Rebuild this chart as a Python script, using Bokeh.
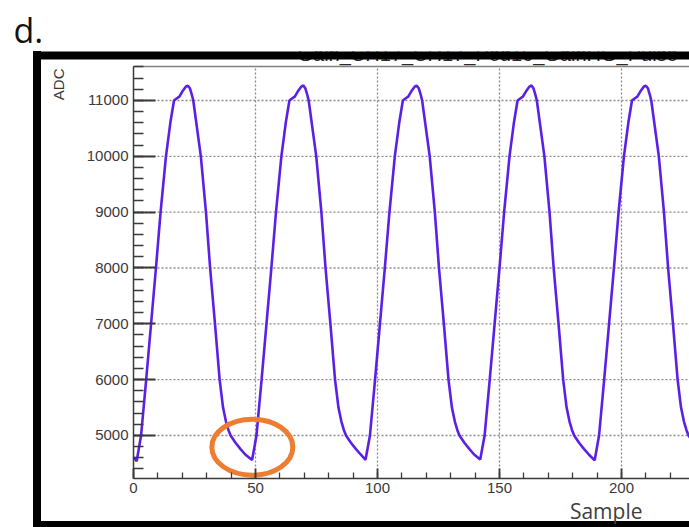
import math
from bokeh.plotting import figure
from bokeh.models import Range1d, SingleIntervalTicker, LinearAxis, Label, BoxAnnotation
from bokeh.embed import file_html
from bokeh.resources import INLINE

# ---- data (Sample, ADC) ----
pulse1_x = [0.0, 1.3, 3.1, 5.2, 7.2, 9.2, 11.1, 13.3, 15.1, 16.6, 17.8, 18.8, 20.3, 21.5, 22.3, 23.1,
            23.8, 24.5, 27.6, 29.7, 31.4, 33.4, 35.3, 36.7, 37.9, 38.9, 39.8, 41.8, 43.8, 45.8]
pulse1_y = [4610, 4540, 5000, 6000, 7000, 8000, 9000, 10000, 10600, 11000, 11040, 11070, 11180, 11250, 11265, 11220,
            11120, 11000, 10000, 9000, 8000, 7000, 6000, 5500, 5250, 5100, 5000, 4870, 4760, 4660]

pulse2_x = [48.6, 50.4, 52.5, 54.5, 56.5, 58.4, 60.6, 62.4, 63.9, 65.1, 66.1, 67.6, 68.8, 69.6, 70.4,
            71.1, 71.8, 74.9, 77.0, 78.7, 80.7, 82.6, 84.0, 85.2, 86.2, 87.1, 89.1, 91.1, 93.1]
pulse2_y = [4560, 5000, 6000, 7000, 8000, 9000, 10000, 10600, 11000, 11040, 11070, 11180, 11250, 11270, 11220,
            11120, 11000, 10000, 9000, 8000, 7000, 6000, 5500, 5250, 5100, 5000, 4870, 4760, 4660]

pulse3_x = [95.1, 96.9, 99.0, 101.0, 103.0, 104.9, 107.1, 108.9, 110.4, 111.6, 112.6, 114.1, 115.3, 116.1, 116.9,
            117.6, 118.3, 121.4, 123.5, 125.2, 127.2, 129.1, 130.5, 131.7, 132.7, 133.6, 135.6, 137.6, 139.6]
pulse3_y = [4565, 5000, 6000, 7000, 8000, 9000, 10000, 10600, 11000, 11040, 11070, 11180, 11250, 11265, 11220,
            11120, 11000, 10000, 9000, 8000, 7000, 6000, 5500, 5250, 5100, 5000, 4870, 4760, 4660]

pulse4_x = [142.1, 143.9, 146.0, 148.0, 150.0, 151.9, 154.1, 155.9, 157.4, 158.6, 159.6, 161.1, 162.3, 163.1, 163.9,
            164.6, 165.3, 168.4, 170.5, 172.2, 174.2, 176.1, 177.5, 178.7, 179.7, 180.6, 182.6, 184.6, 186.6]
pulse4_y = [4570, 5000, 6000, 7000, 8000, 9000, 10000, 10600, 11000, 11040, 11070, 11180, 11250, 11270, 11220,
            11120, 11000, 10000, 9000, 8000, 7000, 6000, 5500, 5250, 5100, 5000, 4870, 4760, 4660]

pulse5_x = [189.0, 190.8, 192.9, 194.9, 196.9, 198.8, 201.0, 202.8, 204.3, 205.5, 206.5, 208.0, 209.2, 210.0, 210.8,
            211.5, 212.2, 215.3, 217.4, 219.1, 221.1, 223.0, 224.4, 225.6, 226.6, 227.5, 229.5]
pulse5_y = [4555, 5000, 6000, 7000, 8000, 9000, 10000, 10600, 11000, 11040, 11070, 11180, 11250, 11265, 11220,
            11120, 11000, 10000, 9000, 8000, 7000, 6000, 5500, 5250, 5100, 5000, 4870]

# tick values of the two axes (grid lines sit on the major ones)
x_ticks = [0, 50, 100, 150, 200]
y_ticks = [5000, 6000, 7000, 8000, 9000, 10000, 11000]

# highlighted minimum (orange ellipse) in data coordinates
mark_x = [48.7]
mark_y = [4790]

panel_label = "d."
plot_title = "Gain_CH17_CH17_Ped16_GainHG_Pulse"
x_title = "Sample"
y_title = "ADC"

sample = pulse1_x + pulse2_x + pulse3_x + pulse4_x + pulse5_x
adc = pulse1_y + pulse2_y + pulse3_y + pulse4_y + pulse5_y

# ---- layout: the frame covers the whole canvas; axes are fixed inside it ----
W, H = 689, 527
X_MIN, X_MAX = 0.0, 227.9          # visible sample range of the pad
Y_MIN, Y_MAX = 4229.9, 11609.0     # visible ADC range of the pad

p = figure(width=W, height=H, output_backend="svg", toolbar_location=None,
           x_range=Range1d(-54.508, 227.869), y_range=Range1d(3352.2, 12791.0),
           min_border_left=0, min_border_right=0, min_border_top=0, min_border_bottom=0,
           x_axis_type=None, y_axis_type=None)
p.background_fill_alpha = 0
p.border_fill_alpha = 0
p.outline_line_color = None
p.xgrid.visible = False
p.ygrid.visible = False

# black slide frame (left and bottom bars) painted behind the canvas
p.styles = {
    "background-color": "white",
    "background-image": "linear-gradient(#000,#000), linear-gradient(#000,#000)",
    "background-size": "8px 476px, 660px 6px",
    "background-position": "33px 51px, 33px 521px",
    "background-repeat": "no-repeat",
}

# dotted grid on the major ticks, limited to the pad
grid_col = "#8a8a8a"
p.segment(x0=x_ticks[1:], y0=[Y_MIN] * 4, x1=x_ticks[1:], y1=[Y_MAX] * 4,
          line_color=grid_col, line_dash="2 2", line_width=1.3)
p.segment(x0=[X_MIN] * 7, y0=y_ticks, x1=[X_MAX] * 7, y1=y_ticks,
          line_color=grid_col, line_dash="2 2", line_width=1.3)
# top edge of the pad
p.segment(x0=[X_MIN], y0=[Y_MAX], x1=[X_MAX], y1=[Y_MAX], line_color="#808080", line_width=1.5)

axis_col = "#3a3a3a"
xaxis = LinearAxis(ticker=SingleIntervalTicker(interval=50, num_minor_ticks=5),
                   fixed_location=Y_MIN, bounds=(X_MIN, X_MAX))
xaxis.major_tick_in = 10
xaxis.major_tick_out = 0
xaxis.minor_tick_in = 6
xaxis.minor_tick_out = 0
xaxis.major_label_standoff = 5
yaxis = LinearAxis(ticker=SingleIntervalTicker(interval=1000, num_minor_ticks=5),
                   fixed_location=X_MIN, bounds=(Y_MIN, Y_MAX))
yaxis.major_tick_in = 22
yaxis.major_tick_out = 0
yaxis.minor_tick_in = 10
yaxis.minor_tick_out = 0
yaxis.major_label_standoff = 5
for ax in (xaxis, yaxis):
    ax.axis_line_color = axis_col
    ax.axis_line_width = 1.5
    ax.major_tick_line_color = axis_col
    ax.major_tick_line_width = 1.8
    ax.minor_tick_line_color = axis_col
    ax.minor_tick_line_width = 1.3
    ax.major_label_text_font = "Liberation Sans"
    ax.major_label_text_font_size = "15px"
    ax.major_label_text_color = "#3a3a3a"
p.add_layout(xaxis, "below")
p.add_layout(yaxis, "left")

p.line(sample, adc, line_color="#5b20e8", line_width=2.6)

p.ellipse(x=mark_x, y=mark_y, width=81, height=56, width_units="screen", height_units="screen",
          fill_color=None, line_color="#ED7D31", line_width=5)

# ---- texts (screen units: x from left, y up from bottom of the canvas-wide frame) ----
p.add_layout(Label(x=297, y=H - 53, x_units="screen", y_units="screen", text=plot_title,
                   text_font="Liberation Sans", text_font_size="20px", text_color="#2a2a2a",
                   text_baseline="alphabetic", text_align="left"))
# the slide crops the title: white above the frame, black bar of the frame over it
p.add_layout(BoxAnnotation(left=-37.7, right=240, top=12300, bottom=11877,
                           fill_color="white", fill_alpha=1.0, line_color=None))
p.add_layout(BoxAnnotation(left=-40.98, right=240, top=11878, bottom=11734,
                           fill_color="black", fill_alpha=1.0, line_color=None))

p.add_layout(Label(x=13, y=H - 29, x_units="screen", y_units="screen", text=panel_label,
                   text_font="Open Sans", text_font_size="34px", text_color="#111111",
                   text_baseline="alphabetic", text_align="left"))
p.add_layout(Label(x=58, y=H - 68, x_units="screen", y_units="screen", text=y_title,
                   angle=math.pi / 2, text_font="Liberation Sans", text_font_size="15px",
                   text_color="#3a3a3a", text_baseline="middle", text_align="right"))
p.add_layout(Label(x=642, y=H - 510, x_units="screen", y_units="screen", text=x_title,
                   text_font="Open Sans", text_font_size="21px", text_color="#404040",
                   text_baseline="alphabetic", text_align="right"))

open("out.html", "w").write(file_html(p, INLINE))
